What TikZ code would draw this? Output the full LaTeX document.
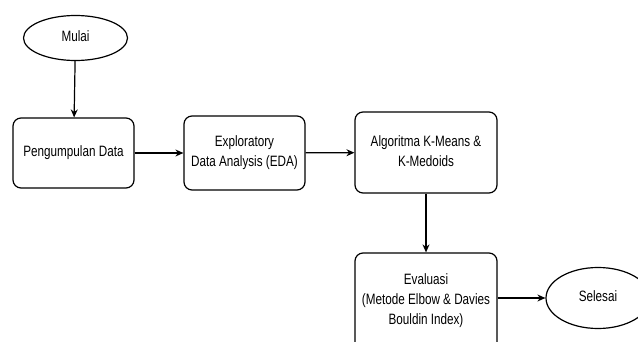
\documentclass[tikz,border=0pt]{standalone}
\usepackage{fontspec}
\usepackage{graphicx}
\setmainfont{Liberation Sans}
\usetikzlibrary{shapes.geometric,arrows.meta}
\newcommand{\boxtxt}[1]{\scalebox{0.78}[1]{\begin{tabular}{@{}c@{}}#1\end{tabular}}}
\tikzset{
  stepbox/.style={draw, line width=1.2pt, rounded corners=8pt, align=center, inner sep=0pt},
  termnode/.style={draw, ellipse, line width=1.2pt, inner sep=0pt},
  arr/.style={line width=1.2pt, -{Stealth[length=8pt,width=7pt]}},
  every node/.style={font=\fontsize{15pt}{20pt}\selectfont}
}
\begin{document}
\begin{tikzpicture}[x=1pt,y=1pt]
\useasboundingbox (0,0) rectangle (638,-342);
\node[termnode, minimum width=104pt, minimum height=45pt] (mulai) at (75.5,-38) {\boxtxt{Mulai}};
\node[stepbox, minimum width=121pt, minimum height=70pt] (peng) at (73.5,-153) {\boxtxt{Pengumpulan Data}};
\node[stepbox, minimum width=121pt, minimum height=74pt] (eda) at (244.5,-153) {\boxtxt{Exploratory\\Data Analysis (EDA)}};
\node[stepbox, minimum width=142pt, minimum height=81pt] (km) at (426,-152.5) {\boxtxt{Algoritma K-Means \&\\K-Medoids}};
\node[stepbox, minimum width=142pt, minimum height=106pt] (ev) at (426,-306) {};
\node (evt) at (426,-300) {\boxtxt{Evaluasi\\(Metode Elbow \& Davies\\Bouldin Index)}};
\node[termnode, minimum width=104pt, minimum height=61pt] (sel) at (598,-298) {\boxtxt{Selesai}};
\draw[arr] (mulai) -- (peng);
\draw[arr] (peng) -- (eda);
\draw[arr] (eda) -- (km);
\draw[arr] (km) -- (ev);
\draw[arr] (ev.east |- sel.west) -- (sel.west);
\end{tikzpicture}
\end{document}
